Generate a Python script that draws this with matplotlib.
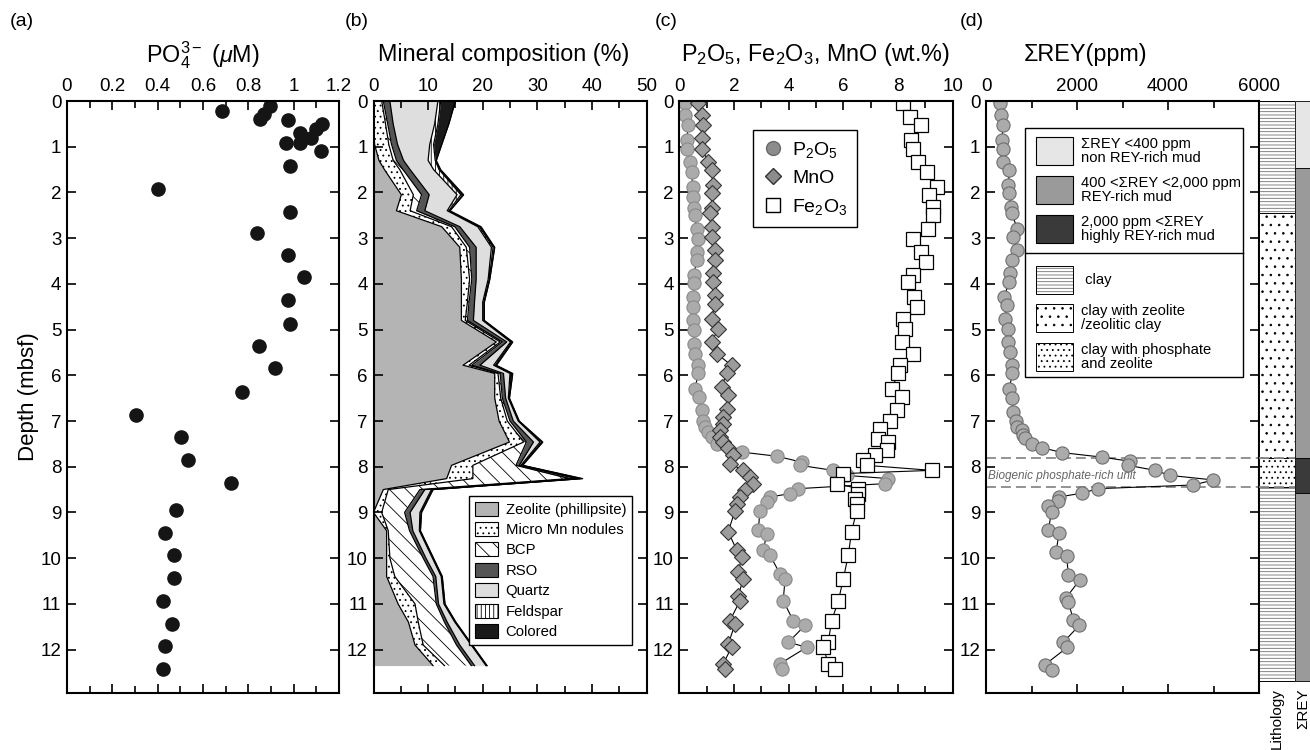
import numpy as np
import matplotlib
matplotlib.use('Agg')
import matplotlib.pyplot as plt
import matplotlib.transforms as mtransforms
from matplotlib.patches import Rectangle, Patch
from matplotlib.lines import Line2D
from matplotlib.ticker import MultipleLocator, FuncFormatter

plt.rcParams['font.family'] = ['Liberation Sans', 'DejaVu Sans']
plt.rcParams['mathtext.fontset'] = 'custom'
plt.rcParams['mathtext.rm'] = 'Liberation Sans'
plt.rcParams['mathtext.it'] = 'Liberation Sans:italic'
plt.rcParams['mathtext.bf'] = 'Liberation Sans:bold'
plt.rcParams['hatch.linewidth'] = 0.6

# ---------------- data ----------------
# (a) pore water phosphate
po4_depth = [0.10, 0.21, 0.29, 0.40, 0.41, 0.50, 0.61, 0.71, 0.82, 0.91, 0.91, 1.09,
             1.42, 1.93, 2.43, 2.88, 3.36, 3.86, 4.36, 4.87, 5.36, 5.85, 6.36, 6.87,
             7.36, 7.86, 8.36, 8.94, 9.44, 9.94, 10.44, 10.93, 11.44, 11.93, 12.43]
po4 = [0.894, 0.684, 0.868, 0.853, 0.974, 1.126, 1.097, 1.026, 1.078, 1.026, 0.965, 1.119,
       0.985, 0.401, 0.985, 0.837, 0.974, 1.047, 0.974, 0.985, 0.846, 0.916, 0.774, 0.303,
       0.504, 0.532, 0.724, 0.481, 0.432, 0.474, 0.474, 0.424, 0.463, 0.432, 0.424]

# (b) mineral composition (%)
depth_b = [0.0, 0.5, 0.95, 1.3, 1.5, 2.05, 2.4, 2.75, 3.2, 3.9, 4.4, 4.8, 5.27, 5.78,
           5.96, 6.5, 7.0, 7.46, 7.97, 8.26, 8.5, 9.0, 9.4, 10.0, 10.4, 11.0, 11.4, 11.9, 12.35]
zeolite = [0, 0, 0.2, 1.0, 2.0, 5.1, 4.2, 12.5, 15.8, 16.1, 16.1, 16.1, 22.5, 16.4, 22.2,
           22.2, 23.0, 24.9, 14.3, 13.4, 1.8, 0, 2.4, 2.4, 2.4, 4.5, 6.4, 7.6, 10.9]
mn_nod = [1.5, 2.2, 2.6, 2.6, 2.8, 2.2, 2.5, 1.8, 1.2, 1.5, 1.1, 0.7, 0.7, 1.1, 0.6,
          1.1, 1.5, 2.6, 3.9, 4.8, 0.9, 1.5, 0.3, 0.6, 1.5, 3.1, 1.8, 1.5, 2.1]
bcp = [0.3, 0.4, 0.5, 0.6, 0.6, 1.5, 1.2, 0.6, 0.6, 0.4, 0.3, 0.4, 0.4, 0.5, 0.4,
       0.3, 0.5, 0.5, 7.9, 17.7, 5.8, 4.2, 3.9, 6.1, 7.0, 3.9, 4.8, 6.1, 4.9]
rso = [1.2, 1.0, 1.1, 1.3, 1.3, 1.4, 1.5, 0.9, 1.2, 0.8, 1.0, 1.1, 0.8, 1.5, 0.6,
       0.6, 0.6, 1.3, 0.6, 1.2, 0.9, 1.0, 0.6, 0.5, 0.5, 0.4, 0.5, 0.6, 0.6]
quartz = [8.8, 7.6, 5.9, 4.5, 4.3, 5.1, 4.1, 3.3, 2.8, 2.2, 1.5, 1.7, 0.7, 2.5, 1.2,
          0.5, 0.9, 1.2, 0.3, 0.6, 1.2, 1.8, 1.2, 1.2, 1.0, 1.0, 1.4, 2.1, 2.1]
feldspar = [0.5, 0.6, 0.7, 1.3, 1.0, 0.7, 0.3, 0.3, 0.3, 0.2, 0.2, 0.2, 0.2, 0.3, 0.3,
            0.1, 0.1, 0.3, 0.2, 0.3, 0.2, 0.2, 0.1, 0.1, 0.1, 0.1, 0.1, 0.1, 0.1]
colored = [2.7, 2.0, 1.5, 0.2, 0.3, 0.5, 0.2, 0.3, 0.3, 0.1, 0.1, 0.1, 0.2, 0.2, 0.2,
           0.1, 0.1, 0.2, 0.1, 0.3, 0.1, 0.1, 0.1, 0.1, 0.1, 0.1, 0.1, 0.1, 0.1]
mineral_names = ['Zeolite (phillipsite)', 'Micro Mn nodules', 'BCP', 'RSO',
                 'Quartz', 'Feldspar', 'Colored']

# (c) bulk chemistry (wt.%)
p2o5_depth = [0.05, 0.31, 0.53, 0.85, 1.04, 1.33, 1.55, 1.88, 2.09, 2.35, 2.50, 2.79,
              3.01, 3.30, 3.48, 3.81, 3.99, 4.28, 4.50, 4.80, 5.01, 5.31, 5.53, 5.78,
              5.96, 6.29, 6.47, 6.77, 6.99, 7.13, 7.24, 7.35, 7.50, 7.68, 7.77, 7.90,
              7.97, 8.08, 8.19, 8.26, 8.37, 8.48, 8.59, 8.66, 8.77, 8.96, 9.39, 9.47,
              9.83, 9.94, 10.34, 10.45, 10.93, 11.37, 11.47, 11.84, 11.95, 12.31, 12.42]
p2o5 = [0.21, 0.21, 0.33, 0.27, 0.27, 0.39, 0.45, 0.49, 0.49, 0.54, 0.57, 0.63,
        0.70, 0.63, 0.63, 0.54, 0.54, 0.51, 0.51, 0.49, 0.54, 0.54, 0.57, 0.70,
        0.70, 0.57, 0.73, 0.82, 0.88, 0.94, 1.06, 1.18, 1.37, 2.28, 3.56, 4.48,
        4.41, 5.63, 6.12, 7.65, 7.52, 4.35, 4.05, 3.32, 3.20, 2.95, 2.89, 3.20,
        3.07, 3.32, 3.68, 3.87, 3.80, 4.17, 4.60, 3.99, 4.66, 3.68, 3.74]
mno_depth = [0.05, 0.31, 0.53, 0.82, 1.04, 1.33, 1.51, 1.84, 2.02, 2.35, 2.46, 2.75,
             2.97, 3.26, 3.48, 3.77, 3.96, 4.25, 4.43, 4.76, 4.98, 5.27, 5.53, 5.78,
             5.96, 6.25, 6.44, 6.73, 6.91, 7.06, 7.20, 7.35, 7.46, 7.60, 7.75, 7.93,
             8.08, 8.23, 8.37, 8.52, 8.66, 8.81, 8.96, 9.42, 9.83, 9.98, 10.31, 10.45,
             10.82, 10.93, 11.37, 11.44, 11.88, 11.95, 12.31, 12.42]
mno = [0.70, 0.82, 0.88, 0.82, 0.82, 1.06, 1.18, 1.24, 1.18, 1.18, 1.12, 1.18,
       1.18, 1.30, 1.30, 1.24, 1.24, 1.30, 1.30, 1.18, 1.43, 1.18, 1.37, 1.91,
       1.73, 1.55, 1.79, 1.73, 1.61, 1.61, 1.49, 1.49, 1.61, 1.79, 1.98, 1.85,
       2.34, 2.59, 2.71, 2.40, 2.22, 2.10, 2.04, 1.79, 2.10, 2.28, 2.16, 2.34,
       2.16, 2.22, 1.85, 2.04, 1.79, 1.91, 1.61, 1.67]
fe2o3_depth = [0.05, 0.34, 0.53, 0.85, 1.04, 1.33, 1.55, 1.88, 2.06, 2.31, 2.50, 2.79,
               3.01, 3.30, 3.52, 3.81, 3.96, 4.28, 4.50, 4.76, 4.98, 5.27, 5.53, 5.78,
               5.96, 6.29, 6.47, 6.77, 6.99, 7.17, 7.39, 7.46, 7.64, 7.75, 7.86, 7.97,
               8.08, 8.15, 8.37, 8.48, 8.59, 8.70, 8.81, 8.96, 9.42, 9.94, 10.45, 10.93,
               11.37, 11.84, 11.95, 12.31, 12.42]
fe2o3 = [8.20, 8.44, 8.83, 8.46, 8.56, 8.74, 9.05, 9.41, 9.15, 9.29, 9.27, 9.11,
         8.56, 8.83, 9.02, 8.54, 8.38, 8.60, 8.68, 8.20, 8.26, 8.13, 8.56, 8.07,
         8.01, 7.77, 8.13, 7.95, 7.71, 7.34, 7.28, 7.65, 7.59, 7.16, 6.73, 6.85,
         9.23, 6.00, 5.76, 6.55, 6.55, 6.43, 6.49, 6.49, 6.30, 6.18, 6.00, 5.82,
         5.57, 5.45, 5.27, 5.45, 5.70]

# (d) total rare-earth elements + yttrium (ppm)
rey_depth = [0.05, 0.31, 0.53, 0.85, 1.04, 1.33, 1.51, 1.84, 2.02, 2.31, 2.46, 2.79,
             2.97, 3.26, 3.48, 3.77, 3.96, 4.28, 4.47, 4.76, 4.98, 5.27, 5.49, 5.78,
             5.96, 6.29, 6.49, 6.80, 6.99, 7.13, 7.20, 7.31, 7.38, 7.50, 7.58, 7.69,
             7.79, 7.88, 7.97, 8.08, 8.19, 8.29, 8.40, 8.48, 8.58, 8.66, 8.76, 8.87,
             8.98, 9.38, 9.46, 9.87, 9.96, 10.36, 10.47, 10.87, 10.96, 11.35, 11.47,
             11.84, 11.95, 12.33, 12.44]
rey = [308, 322, 381, 344, 366, 366, 513, 491, 513, 542, 564, 689,
       601, 689, 564, 527, 513, 396, 469, 418, 491, 491, 527, 564,
       579, 513, 564, 601, 659, 674, 784, 821, 857, 1004, 1223, 1663,
       2542, 3165, 3128, 3714, 4044, 4996, 4557, 2469, 2103, 1612, 1590, 1370,
       1443, 1370, 1604, 1538, 1773, 1810, 2066, 1758, 1810, 1919, 2051,
       1700, 1788, 1297, 1443]

# lithology / REY class columns
lith_top = [0.0, 2.45, 7.80, 8.45]
lith_bot = [2.45, 7.80, 8.45, 12.68]
lith_kind = ['clay', 'zeolitic', 'phosphate', 'clay']
class_top = [0.0, 1.47, 7.80, 8.58]
class_bot = [1.47, 7.80, 8.58, 12.68]
class_kind = ['low', 'mid', 'high', 'mid']
unit_bounds = [7.80, 8.45]

# ---------------- styles ----------------
lith_hatch = {'clay': '-----', 'zeolitic': '..', 'phosphate': '...'}
lith_hcolor = {'clay': '#707070', 'zeolitic': 'black', 'phosphate': 'black'}
class_color = {'low': '#e6e6e6', 'mid': '#9a9a9a', 'high': '#3a3a3a'}
mineral_styles = [dict(facecolor='#b4b4b4'),
                  dict(facecolor='white', hatch='...'),
                  dict(facecolor='white', hatch='\\\\'),
                  dict(facecolor='#555555'),
                  dict(facecolor='#dedede'),
                  dict(facecolor='white', hatch='||||'),
                  dict(facecolor='#1a1a1a')]

W, H = 1310, 750
DMAX = 12.95
fig = plt.figure(figsize=(13.1, 7.5), dpi=100)


def px_axes(x0, x1, y0=101, y1=693):
    return fig.add_axes([x0 / W, 1 - y1 / H, (x1 - x0) / W, (y1 - y0) / H])


def style(ax, xmax, major, minor):
    ax.set_xlim(0, xmax)
    ax.set_ylim(DMAX, 0)
    ax.xaxis.set_major_locator(MultipleLocator(major))
    ax.xaxis.set_minor_locator(MultipleLocator(minor))
    ax.yaxis.set_major_locator(MultipleLocator(1))
    ax.xaxis.set_major_formatter(FuncFormatter(lambda v, _: f'{v:g}'))
    ax.tick_params(which='both', direction='in', top=True, bottom=True, left=True,
                   right=True, labeltop=True, labelbottom=False, width=1.2,
                   labelsize=13.5, pad=4)
    ax.tick_params(which='major', length=6.5)
    ax.tick_params(which='minor', length=5)
    for s in ax.spines.values():
        s.set_linewidth(1.5)


def title(ax, x, text):
    ax.text(x, 1.078, text, transform=ax.transAxes, ha='center', va='center',
            fontsize=16.8)


def lith_patch(ax, xy, w, h, kind, **kw):
    # hatch colour follows the edge colour, so draw texture and outline separately
    ax.add_patch(Rectangle(xy, w, h, facecolor='white', edgecolor=lith_hcolor[kind],
                           lw=0, hatch=lith_hatch[kind], **kw))
    ax.add_patch(Rectangle(xy, w, h, facecolor='none', edgecolor='black', lw=0.7, **kw))


# ---------------- (a) ----------------
ax_a = px_axes(67, 339)
style(ax_a, 1.2, 0.2, 0.1)
ax_a.plot(po4, po4_depth, 'o', color='#151515', ms=9.5)
ax_a.set_ylabel('Depth (mbsf)', fontsize=16, labelpad=1)
title(ax_a, 0.5, r'PO$_4^{3-}$ ($\mu$M)')

# ---------------- (b) ----------------
ax_b = px_axes(373.5, 646.5)
style(ax_b, 50, 10, 5)
left = np.zeros(len(depth_b))
for vals, st in zip([zeolite, mn_nod, bcp, rso, quartz, feldspar, colored], mineral_styles):
    right = left + np.array(vals)
    ax_b.fill_betweenx(depth_b, left, right, edgecolor='black', linewidth=0, **st)
    ax_b.plot(right, depth_b, color='black', lw=0.9)
    left = right
handles_b = [Patch(edgecolor='black', linewidth=0.8, **st) for st in mineral_styles]
ax_b.legend(handles_b, mineral_names, loc='lower right', bbox_to_anchor=(0.947, 0.081),
            fontsize=10.7, frameon=True, fancybox=False, edgecolor='black',
            framealpha=1, handlelength=1.55, handleheight=1.07, labelspacing=0.36,
            handletextpad=0.5, borderpad=0.4, borderaxespad=0)
title(ax_b, 0.476, 'Mineral composition (%)')

# ---------------- (c) ----------------
ax_c = px_axes(679.3, 952.7)
style(ax_c, 10, 2, 1)
ax_c.plot(p2o5, p2o5_depth, '-o', color='black', lw=0.8, ms=9.5,
          mfc='#ababab', mec='#8a8a8a', mew=0.8)
ax_c.plot(mno, mno_depth, '-D', color='black', lw=0.8, ms=8.2,
          mfc='#9c9c9c', mec='#333333', mew=0.8)
ax_c.plot(fe2o3, fe2o3_depth, '-s', color='black', lw=0.8, ms=9.5,
          mfc='white', mec='black', mew=0.9)
handles_c = [Line2D([], [], ls='', marker='o', ms=10, mfc='#8c8c8c', mec='#6a6a6a'),
             Line2D([], [], ls='', marker='D', ms=8.5, mfc='#8c8c8c', mec='#333333'),
             Line2D([], [], ls='', marker='s', ms=10, mfc='white', mec='black')]
ax_c.legend(handles_c, [r'P$_2$O$_5$', 'MnO', r'Fe$_2$O$_3$'], loc='upper left',
            bbox_to_anchor=(0.27, 0.951), fontsize=14, frameon=True, fancybox=False,
            edgecolor='black', framealpha=1, handlelength=1.0, handletextpad=0.5,
            labelspacing=0.5, borderpad=0.5, borderaxespad=0)
title(ax_c, 0.5, r'P$_2$O$_5$, Fe$_2$O$_3$, MnO (wt.%)')

# ---------------- (d) ----------------
ax_d = px_axes(986, 1259)
style(ax_d, 6000, 2000, 1000)
ax_d.plot(rey, rey_depth, '-o', color='black', lw=0.8, ms=9.5,
          mfc='#ababab', mec='#6e6e6e', mew=0.8)
for d in unit_bounds:
    ax_d.axhline(d, color='#8a8a8a', lw=1.3, dashes=(5.5, 2.8), zorder=1)
trans = mtransforms.blended_transform_factory(ax_d.transAxes, ax_d.transData)
ax_d.text(0.008, 8.2, 'Biogenic phosphate-rich unit', transform=trans, fontsize=8.5,
          style='italic', color='#666666', va='center', ha='left')
title(ax_d, 0.363, 'ΣREY(ppm)')

# legend box for (d)
ax_d.add_patch(Rectangle((0.143, 0.534), 0.798, 0.420, transform=ax_d.transAxes,
                         facecolor='white', edgecolor='black', lw=1, zorder=5))
ax_d.plot([0.143, 0.941], [0.743, 0.743], transform=ax_d.transAxes, color='black',
          lw=1, zorder=6)
leg_d = [('class', 'low', 'ΣREY <400 ppm\nnon REY-rich mud'),
         ('class', 'mid', '400 <ΣREY <2,000 ppm\nREY-rich mud'),
         ('class', 'high', '2,000 ppm <ΣREY\nhighly REY-rich mud'),
         ('lith', 'clay', ' clay'),
         ('lith', 'zeolitic', 'clay with zeolite\n/zeolitic clay'),
         ('lith', 'phosphate', 'clay with phosphate\nand zeolite')]
leg_y = [0.916, 0.850, 0.784, 0.698, 0.633, 0.568]
for (kind, key, lab), yc in zip(leg_d, leg_y):
    xy = (0.183, yc - 0.0237)
    if kind == 'class':
        ax_d.add_patch(Rectangle(xy, 0.1355, 0.0473, transform=ax_d.transAxes,
                                 facecolor=class_color[key], edgecolor='black',
                                 lw=0.8, zorder=6))
    else:
        lith_patch(ax_d, xy, 0.1355, 0.0473, key, transform=ax_d.transAxes, zorder=6)
    ax_d.text(0.348, yc, lab, transform=ax_d.transAxes, fontsize=10.6, va='center',
              ha='left', linespacing=1.0, zorder=7)

# ---------------- lithology and REY class columns ----------------
ax_l = px_axes(1259, 1295)
ax_r = px_axes(1295, 1331)
for ax in (ax_l, ax_r):
    ax.set_xlim(0, 1)
    ax.set_ylim(DMAX, 0)
    ax.axis('off')
for t, b, k in zip(lith_top, lith_bot, lith_kind):
    lith_patch(ax_l, (0, t), 1, b - t, k)
for t, b, k in zip(class_top, class_bot, class_kind):
    ax_r.fill_betweenx([t, b], 0, 1, facecolor=class_color[k], edgecolor='black', lw=0.6)
for d in unit_bounds:
    ax_l.axhline(d, color='#8a8a8a', lw=1.3, dashes=(5.5, 2.8))

fig.text(1277 / W, 1 - 688 / H, 'Lithology', rotation=90, ha='center', va='top',
         fontsize=11)
fig.text(1303 / W, 1 - 688 / H, 'ΣREY', rotation=90, ha='center', va='top',
         fontsize=11)

# panel letters
for x, lab in [(10, '(a)'), (345, '(b)'), (655, '(c)'), (960, '(d)')]:
    fig.text(x / W, 1 - 22 / H, lab, fontsize=14, va='center', ha='left')

fig.savefig('out.png', dpi=100)
